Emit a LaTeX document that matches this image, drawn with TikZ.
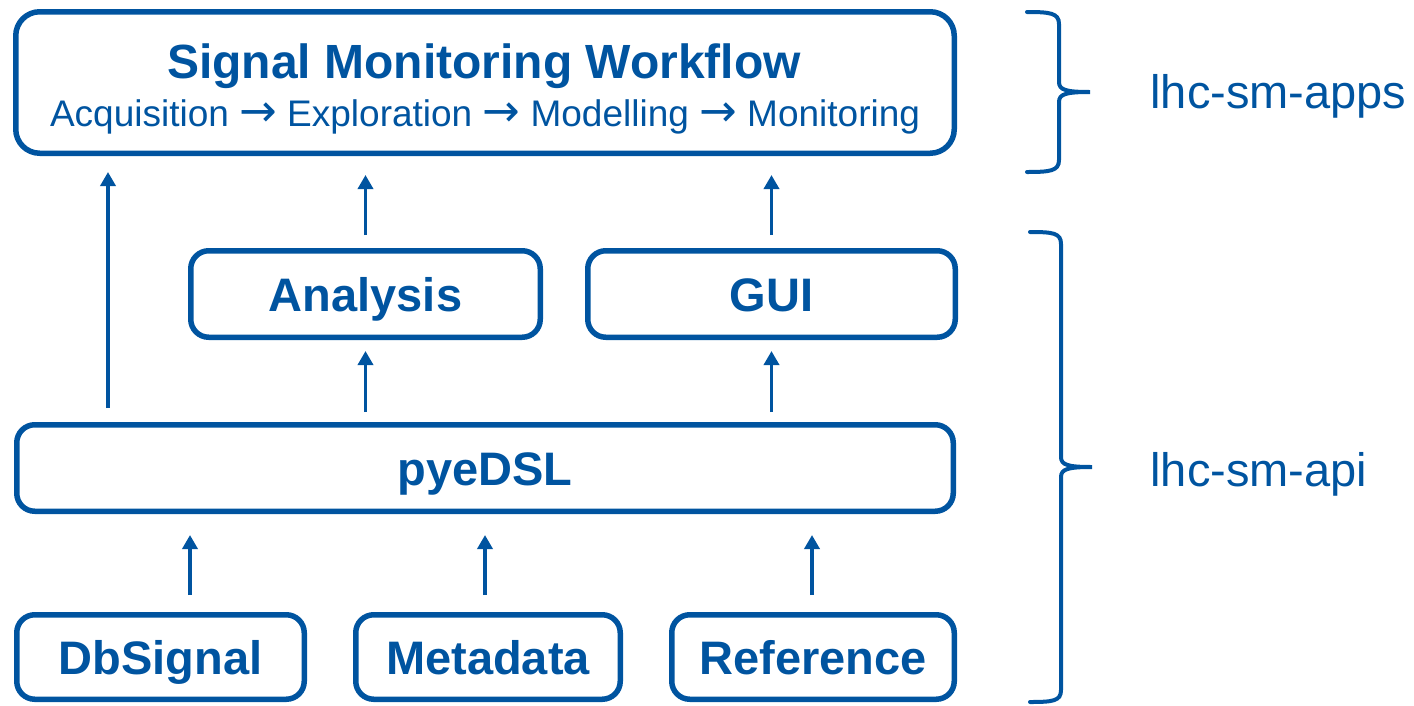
\documentclass[tikz,border=0pt]{standalone}
\usepackage{fontspec}
\setmainfont{Liberation Sans}
\newfontfamily\arrowfont{DejaVu Sans}
\usetikzlibrary{arrows.meta, positioning, calc}
\definecolor{smblue}{RGB}{0, 84, 160}
\newcommand{\stepto}{\ {\arrowfont\fontsize{45}{44}\selectfont →}\ }

\tikzset{
  layerbox/.style={draw=smblue, line width=5.5pt, rounded corners=18pt, inner sep=0pt,
    text=smblue, font=\fontsize{47}{56}\selectfont\bfseries, text height=34pt, text depth=0pt},
  uparrow/.style={draw=smblue, line width=3.5pt, -{Triangle[width=15pt, length=14pt]}},
  pkgbrace/.style={draw=smblue, line width=4pt, line cap=round},
  pkglabel/.style={text=smblue, font=\fontsize{47}{56}\selectfont, anchor=base west}
}

\begin{document}
\begin{tikzpicture}[x=1pt, y=-1pt]
  \useasboundingbox (0,0) rectangle (1414,705);

  % Workflow on top
  \node[layerbox, rounded corners=24pt, minimum width=938.5pt, minimum height=141.5pt] (wf) at (485, 82.5) {};
  \node[text=smblue, font=\fontsize{48}{56}\selectfont\bfseries, anchor=base] (wftitle) at (484, 78) {Signal Monitoring Workflow};
  \node[text=smblue, font=\fontsize{37}{44}\selectfont, anchor=base] (wfsteps) at (485, 126) {Acquisition\stepto Exploration\stepto Modelling\stepto Monitoring};

  % Analysis and GUI
  \node[layerbox, minimum width=349.5pt, minimum height=86.5pt] (ana) at (365.5, 294) {Analysis};
  \node[layerbox, minimum width=367.5pt, minimum height=86.5pt] (gui) at (771.5, 294) {GUI};

  % pyeDSL
  \node[layerbox, minimum width=936.5pt, minimum height=86.5pt] (pyedsl) at (485, 468) {pyeDSL};

  % Data sources
  \node[layerbox, minimum width=287.5pt, minimum height=84.5pt] (dbsig) at (160.5, 657) {DbSignal};
  \node[layerbox, minimum width=264.5pt, minimum height=84.5pt] (meta) at (488, 657) {Metadata};
  \node[layerbox, minimum width=282.5pt, minimum height=84.5pt] (ref) at (813, 657) {Reference};

  \coordinate (lft) at (108, 0);
  \coordinate (dbx) at (190, 0);
  \coordinate (metax) at (485, 0);
  \coordinate (refx) at (812, 0);

  % Arrows
  \draw[uparrow, shorten <=17pt, shorten >=21pt] (dbsig.north -| dbx) -- (pyedsl.south -| dbx);
  \draw[uparrow, shorten <=17pt, shorten >=21pt] (meta.north -| metax) -- (pyedsl.south -| metax);
  \draw[uparrow, shorten <=17pt, shorten >=21pt] (ref.north -| refx) -- (pyedsl.south -| refx);

  \draw[uparrow, shorten <=10pt, shorten >=11pt] (pyedsl.north -| ana) -- (ana.south);
  \draw[uparrow, shorten <=10pt, shorten >=11pt] (pyedsl.north -| gui) -- (gui.south);

  \draw[uparrow, shorten <=13pt, shorten >=19pt] (ana.north) -- (wf.south -| ana);
  \draw[uparrow, shorten <=13pt, shorten >=19pt] (gui.north) -- (wf.south -| gui);
  \draw[uparrow, shorten <=14pt, shorten >=16pt] (pyedsl.north -| lft) -- (wf.south -| lft);

  % Braces
  \draw[pkgbrace] (1027,12) .. controls (1050,12) and (1059,13) .. (1059,24) -- (1059,82)
    .. controls (1059,90) and (1066,92) .. (1090,92)
    .. controls (1066,92) and (1059,94) .. (1059,102) -- (1059,160)
    .. controls (1059,171) and (1050,172) .. (1027,172);
  \draw[pkgbrace] (1030,232) .. controls (1053,232) and (1061,233) .. (1061,244) -- (1061,457)
    .. controls (1061,465) and (1068,467) .. (1092,467)
    .. controls (1068,467) and (1061,469) .. (1061,477) -- (1061,690)
    .. controls (1061,701) and (1053,702) .. (1030,702);

  \node[pkglabel] (apps) at (1147, 108) {lhc-sm-apps};
  \node[pkglabel] (api) at (1147, 486) {lhc-sm-api};
\end{tikzpicture}
\end{document}
